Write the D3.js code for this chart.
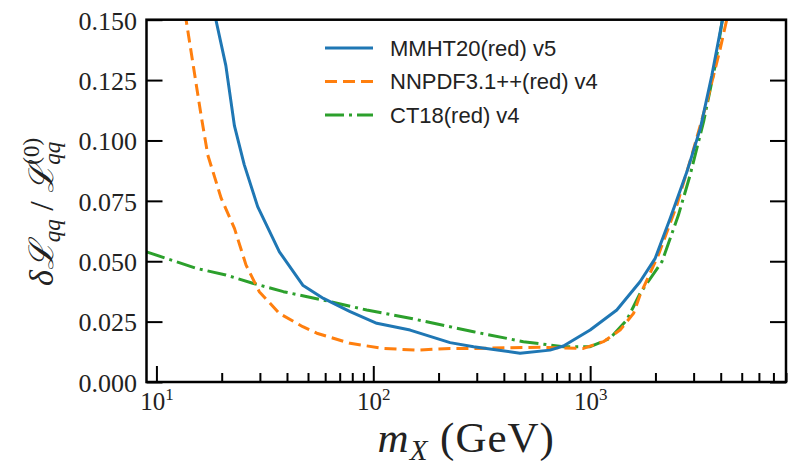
<!DOCTYPE html>
<html>
<head>
<meta charset="utf-8">
<script src="https://cdn.jsdelivr.net/npm/d3@7/dist/d3.min.js"></script>
<style>
  body { margin: 0; background: #fff; }
  svg { display: block; }
</style>
</head>
<body>
<svg id="chart" width="788" height="465"></svg>
<script>
// Relative uncertainty of the qq luminosity versus mass for three PDF sets
const mmhtMass = [16, 18.8, 20.9, 22.9, 25.4, 29.3, 36.9, 47.3, 58.9, 78.2, 103.8, 147.8, 226, 290, 475, 653, 753, 1000, 1327, 1698, 1995, 2340, 2793, 3222, 3641, 4055, 4500];
const mmhtErr  = [0.185, 0.150, 0.131, 0.106, 0.090, 0.0726, 0.0539, 0.0401, 0.0346, 0.0291, 0.0243, 0.0215, 0.0163, 0.0146, 0.0119, 0.0132, 0.0149, 0.0215, 0.0298, 0.0415, 0.0512, 0.0678, 0.087, 0.105, 0.127, 0.149, 0.172];

const nnpdfMass = [12.5, 13.7, 16.06, 17.25, 19.9, 22.9, 25.9, 29.8, 36.9, 47.3, 54.9, 78.2, 111.4, 158.8, 226, 288, 587, 931, 1151, 1374, 1585, 1699, 2064, 2512, 2946, 3455, 3980, 4275, 4700];
const nnpdfErr  = [0.175, 0.150, 0.1105, 0.094, 0.076, 0.0636, 0.0484, 0.0374, 0.0284, 0.0229, 0.0202, 0.0160, 0.0139, 0.0132, 0.0139, 0.0139, 0.0144, 0.0139, 0.0167, 0.0215, 0.0284, 0.036, 0.0526, 0.0733, 0.094, 0.116, 0.138, 0.1505, 0.170];

const ct18Mass = [9, 15.2, 20.9, 27.8, 38.5, 58.9, 93.3, 147.8, 226, 290, 492, 753, 1000, 1236, 1476, 1699, 2143, 2553, 2891, 3333, 3776, 4055, 4400];
const ct18Err  = [0.0539, 0.0471, 0.0443, 0.0409, 0.0374, 0.0339, 0.0298, 0.0264, 0.0229, 0.0208, 0.0167, 0.0146, 0.0146, 0.0181, 0.0257, 0.0367, 0.0498, 0.0691, 0.0857, 0.1077, 0.1312, 0.149, 0.168];

const seriesNames = ["MMHT20(red) v5", "NNPDF3.1++(red) v4", "CT18(red) v4"];
const seriesColors = ["#1f77b4", "#ff7f0e", "#2ca02c"];
const seriesDash = ["none", "12,6", "19,5,3,5"];

const yTicks = [0, 0.025, 0.05, 0.075, 0.1, 0.125, 0.15];
const xMajorTicks = [10, 100, 1000];
const xMajorExp = ["1", "2", "3"];

const svg = d3.select("#chart");
const plot = { left: 146.5, right: 786, top: 19.7, bottom: 382 };

const x = d3.scaleLog().domain([9, 8000]).range([plot.left, plot.right]);
const y = d3.scaleLinear().domain([0, 0.15]).range([plot.bottom, plot.top]);

const xMinorTicks = [];
[10, 100, 1000].forEach(d => { for (let k = 2; k <= 9; k++) if (k * d <= 8000) xMinorTicks.push(k * d); });

svg.append("defs").append("clipPath").attr("id", "plot-clip")
  .append("rect")
  .attr("x", plot.left).attr("y", plot.top)
  .attr("width", plot.right - plot.left).attr("height", plot.bottom - plot.top);

// curves
const series = [
  { mass: mmhtMass, err: mmhtErr },
  { mass: nnpdfMass, err: nnpdfErr },
  { mass: ct18Mass, err: ct18Err }
];
const line = d3.line().x(d => x(d[0])).y(d => y(d[1]));
const curves = svg.append("g").attr("clip-path", "url(#plot-clip)");
// CT18 underneath, then NNPDF, MMHT on top
[2, 1, 0].forEach(i => {
  const pts = series[i].mass.map((m, j) => [m, series[i].err[j]]);
  curves.append("path")
    .attr("d", line(pts))
    .attr("fill", "none")
    .attr("stroke", seriesColors[i])
    .attr("stroke-width", 3)
    .attr("stroke-dasharray", seriesDash[i])
    .attr("stroke-linejoin", "round");
});

// axes
const tickStyle = g => {
  g.select(".domain").remove();
  g.selectAll(".tick line").attr("stroke", "#000").attr("stroke-width", 2);
};

const yAxis = svg.append("g")
  .attr("transform", `translate(${plot.left},0)`)
  .call(d3.axisLeft(y).tickValues(yTicks).tickSize(-16).tickPadding(9.5).tickFormat(d3.format(".3f")))
  .call(tickStyle);
yAxis.selectAll(".tick text")
  .attr("font-family", "'Liberation Serif', 'DejaVu Serif', serif")
  .attr("font-size", 26)
  .attr("fill", "#222")
  .attr("dy", "0.36em");

svg.append("g")
  .attr("transform", `translate(${plot.right},0)`)
  .call(d3.axisRight(y).tickValues(yTicks).tickSize(-16).tickFormat(""))
  .call(tickStyle);

svg.append("g")
  .attr("transform", `translate(0,${plot.bottom})`)
  .call(d3.axisBottom(x).tickValues(xMinorTicks).tickSize(-9).tickFormat(""))
  .call(tickStyle);

const xAxis = svg.append("g")
  .attr("transform", `translate(0,${plot.bottom})`)
  .call(d3.axisBottom(x).tickValues(xMajorTicks).tickSize(-16).tickFormat(""))
  .call(tickStyle);
xAxis.selectAll(".tick text").remove();
xAxis.selectAll(".tick").each(function (d, i) {
  const t = d3.select(this).append("text")
    .attr("y", 28)
    .attr("text-anchor", "middle")
    .attr("font-family", "'Liberation Serif', 'DejaVu Serif', serif")
    .attr("font-size", 25)
    .attr("fill", "#222");
  t.append("tspan").text("10");
  t.append("tspan").attr("font-size", 17).attr("dy", -10).text(xMajorExp[i]);
});

// frame
svg.append("rect")
  .attr("x", plot.left).attr("y", plot.top)
  .attr("width", plot.right - plot.left).attr("height", plot.bottom - plot.top)
  .attr("fill", "none").attr("stroke", "#000").attr("stroke-width", 2.5);

// x label
const xl = svg.append("text")
  .attr("x", (plot.left + plot.right) / 2)
  .attr("y", 452)
  .attr("text-anchor", "middle")
  .attr("font-family", "'Liberation Serif', 'DejaVu Serif', serif")
  .attr("font-size", 43)
  .attr("letter-spacing", 1)
  .attr("fill", "#222");
xl.append("tspan").attr("font-style", "italic").text("m");
xl.append("tspan").attr("font-style", "italic").attr("font-size", 29).attr("dy", 8).text("X");
xl.append("tspan").attr("dy", -8).text(" (GeV)");

// y label
const yl = svg.append("text")
  .attr("transform", "translate(53,212) rotate(-90)")
  .attr("text-anchor", "middle")
  .attr("font-family", "'Liberation Serif', 'DejaVu Serif', serif")
  .attr("font-size", 34)
  .attr("fill", "#222");
yl.append("tspan").attr("font-style", "italic").text("δℒ");
yl.append("tspan").attr("font-style", "italic").attr("font-size", 23).attr("dy", 7).text("qq");
yl.append("tspan").attr("dy", -7).text(" / ");
yl.append("tspan").attr("font-style", "italic").text("ℒ");
yl.append("tspan").attr("font-style", "italic").attr("font-size", 23).attr("dy", 7).text("qq");
yl.append("tspan").attr("font-size", 23).attr("dx", -23).attr("dy", -21).text("(0)");

// legend
const legend = svg.append("g");
seriesNames.forEach((name, i) => {
  const cy = 48 + i * 33.5;
  legend.append("line")
    .attr("x1", 325).attr("x2", 373).attr("y1", cy).attr("y2", cy)
    .attr("stroke", seriesColors[i]).attr("stroke-width", 3)
    .attr("stroke-dasharray", seriesDash[i]);
  legend.append("text")
    .attr("x", 390).attr("y", cy + 7.5)
    .attr("font-family", "'Liberation Sans', Arial, sans-serif")
    .attr("font-size", 22)
    .attr("fill", "#222")
    .text(name);
});
</script>
</body>
</html>
